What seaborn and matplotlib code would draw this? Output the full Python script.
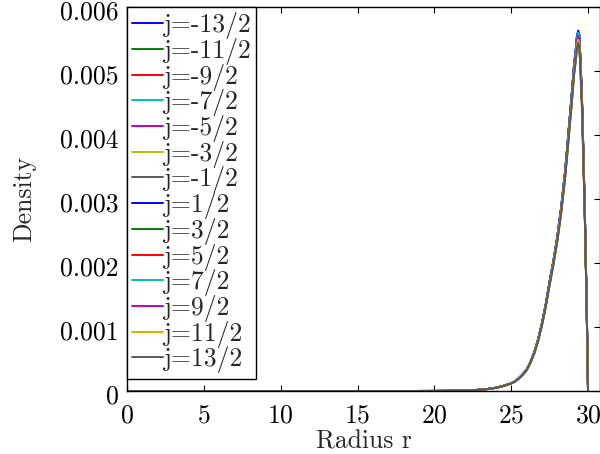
import numpy as np
import pandas as pd
import matplotlib
matplotlib.use('Agg')
import matplotlib.pyplot as plt
import matplotlib.transforms as mtransforms
import seaborn as sns

sns.set_style('ticks')
plt.rcParams['font.family'] = ['cmr10', 'DejaVu Serif']
plt.rcParams['axes.unicode_minus'] = False
plt.rcParams['mathtext.fontset'] = 'cm'
plt.rcParams['axes.formatter.use_mathtext'] = True

# labels of the 14 curves
j_labels = ['j=-13/2', 'j=-11/2', 'j=-9/2', 'j=-7/2', 'j=-5/2', 'j=-3/2', 'j=-1/2',
            'j=1/2', 'j=3/2', 'j=5/2', 'j=7/2', 'j=9/2', 'j=11/2', 'j=13/2']
colors = ['b', 'g', 'r', 'c', 'm', 'y', '0.35'] * 2

# radius grid and base density profile
radius = [0, 5, 10, 15, 18, 20, 21, 22, 22.5, 23, 23.5, 24, 24.5, 25, 25.25, 25.5,
          25.75, 26.0, 26.25, 26.5, 26.75, 27.0, 27.25, 27.5, 27.75, 28.0, 28.25,
          28.5, 28.65, 28.8, 28.9, 29.0, 29.1, 29.2, 29.28, 29.36, 29.43, 29.5,
          29.6, 29.7, 29.8, 29.9, 29.97, 30.0]
density = [0, 0, 0, 0, 0, 0.000001, 0.000003, 0.000008, 0.000013, 0.00002, 0.000032,
           0.00005, 0.00008, 0.00012, 0.00015, 0.0002, 0.00026, 0.00033, 0.00045,
           0.0006, 0.0008, 0.00105, 0.00135, 0.0017, 0.00203, 0.0024, 0.00285,
           0.0034, 0.0038, 0.00423, 0.0045, 0.0048, 0.0051, 0.0053, 0.00552, 0.0056,
           0.00555, 0.0052, 0.0046, 0.0037, 0.0027, 0.0015, 0.0005, 0]
# peak height of each curve
peaks = [0.00563, 0.00561, 0.00559, 0.00561, 0.00556, 0.00550, 0.00545,
         0.00562, 0.00560, 0.00558, 0.00560, 0.00555, 0.00549, 0.00544]

rows = []
base_peak = max(density)
for lab, pk in zip(j_labels, peaks):
    for r, d in zip(radius, density):
        rows.append({'r': r, 'density': d * pk / base_peak, 'j': lab})
df = pd.DataFrame(rows)

fig = plt.figure(figsize=(6, 4.54), dpi=100)
ax = fig.add_axes([127 / 600, 1 - 391 / 454, 1 - 127 / 600, 384 / 454])
sns.lineplot(data=df, x='r', y='density', hue='j', hue_order=j_labels,
             palette=colors, linewidth=1.4, ax=ax, legend=False, sort=False,
             estimator=None)

ax.set_xlim(0, 30.78)
ax.set_ylim(0, 0.006)
ax.set_xticks([0, 5, 10, 15, 20, 25, 30])
ax.set_yticks([0, 0.001, 0.002, 0.003, 0.004, 0.005, 0.006])
ax.set_yticklabels(['0', '0.001', '0.002', '0.003', '0.004', '0.005', '0.006'])
ax.tick_params(direction='in', length=4, width=0.8, top=True, right=True,
               labelsize=18.5, colors='black')
ax.tick_params(axis='x', pad=9.5)
ax.tick_params(axis='y', pad=6)
shift = mtransforms.ScaledTranslation(0, -0.03, fig.dpi_scale_trans)
for lbl in ax.get_yticklabels():
    lbl.set_transform(lbl.get_transform() + shift)
for s in ax.spines.values():
    s.set_color('black')
    s.set_linewidth(1.0)
ax.set_xlabel('Radius r', fontsize=18.5, labelpad=1)
ax.set_ylabel('Density', fontsize=18.5, labelpad=17)

handles = [plt.Line2D([], [], color=c, lw=1.4) for c in colors]
leg = ax.legend(handles, j_labels, loc='upper left', bbox_to_anchor=(0, 1),
                borderaxespad=0, fontsize=18.5, fancybox=False, framealpha=1,
                edgecolor='black', borderpad=0.2, labelspacing=-0.05,
                handlelength=1.2, handletextpad=0.0)
leg.get_frame().set_linewidth(1.0)

fig.savefig('out.png', dpi=100)
